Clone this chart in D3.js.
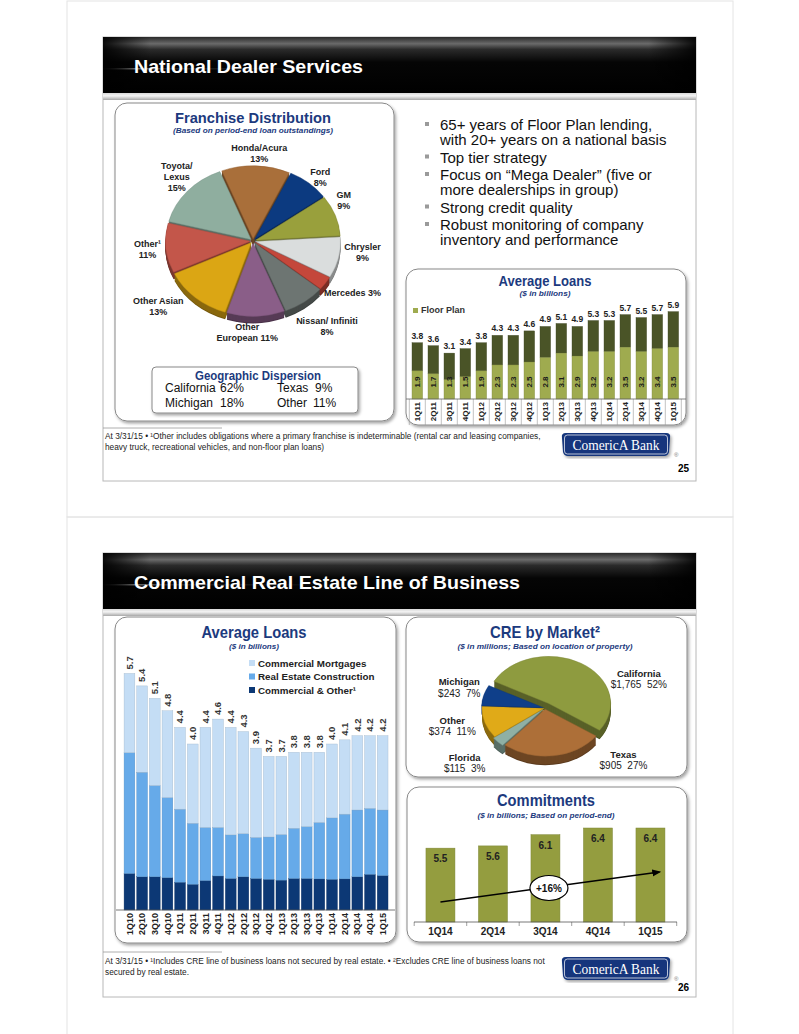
<!DOCTYPE html>
<html><head><meta charset="utf-8">
<script src="https://cdn.jsdelivr.net/npm/d3@7"></script>
<style>
html,body{margin:0;padding:0;background:#fff;}
svg{display:block;font-family:"Liberation Sans",Arial,Helvetica,sans-serif;}
</style></head><body>
<svg id="c" width="799" height="1034"></svg>
<script>
// ---------------- DATA ----------------
const franchiseNames = ["Honda/Acura","Ford","GM","Chrysler","Mercedes","Nissan/ Infiniti","Other European","Other Asian","Other¹","Toyota/ Lexus"];
const franchiseShares = [13,8,9,9,3,8,11,13,11,15];
const franchiseLabelTpl = ["Honda/Acura|{p}","Ford|{p}","GM|{p}","Chrysler|{p}","Mercedes {p}","Nissan/ Infiniti|{p}","Other|European {p}","Other Asian|{p}","Other¹|{p}","Toyota/|Lexus|{p}"];
const franchiseColors = ["#a96f3a","#0c3a80","#99a03c","#dadddd","#c4473b","#6d7572","#8a5e88","#dba614","#c3564a","#8fae9f"];

const geoRegions = ["California","Michigan","Texas","Other"];
const geoShares = [62,18,9,11];

const bulletItems = ["65+ years of Floor Plan lending,|with 20+ years on a national basis","Top tier strategy","Focus on “Mega Dealer” (five or|more dealerships in group)","Strong credit quality","Robust monitoring of company|inventory and performance"];

const ndsQuarters = ["1Q11","2Q11","3Q11","4Q11","1Q12","2Q12","3Q12","4Q12","1Q13","2Q13","3Q13","4Q13","1Q14","2Q14","3Q14","4Q14","1Q15"];
const ndsTotal = [3.8,3.6,3.1,3.4,3.8,4.3,4.3,4.6,4.9,5.1,4.9,5.3,5.3,5.7,5.5,5.7,5.9];
const ndsFloorPlan = [1.9,1.7,1.3,1.5,1.9,2.3,2.3,2.5,2.8,3.1,2.9,3.2,3.2,3.5,3.2,3.4,3.5];

const creQuarters = ["1Q10","2Q10","3Q10","4Q10","1Q11","2Q11","3Q11","4Q11","1Q12","2Q12","3Q12","4Q12","1Q13","2Q13","3Q13","4Q13","1Q14","2Q14","3Q14","4Q14","1Q15"];
const creTotal = [5.7,5.4,5.1,4.8,4.4,4.0,4.4,4.6,4.4,4.3,3.9,3.7,3.7,3.8,3.8,3.8,4.0,4.1,4.2,4.2,4.2];
const creCommercialOther = [0.88,0.80,0.80,0.78,0.67,0.62,0.71,0.82,0.76,0.80,0.76,0.74,0.72,0.76,0.76,0.75,0.74,0.75,0.80,0.86,0.83];
const creConstruction = [2.91,2.52,2.20,1.93,1.76,1.47,1.28,1.17,1.05,1.04,0.99,1.02,1.10,1.21,1.25,1.36,1.48,1.56,1.61,1.59,1.58];
const creMortgages = [1.91,2.08,2.10,2.09,1.97,1.91,2.41,2.61,2.59,2.46,2.15,1.94,1.88,1.83,1.79,1.69,1.78,1.79,1.79,1.75,1.79];
const creSeriesNames = ["Commercial Mortgages","Real Estate Construction","Commercial & Other¹"];

const marketNames = ["California","Texas","Florida","Other","Michigan"];
const marketValues = [1765,905,115,374,243];
const marketColors = ["#8e9b3f","#ad6f38","#8fb0a4","#e0aa18","#0f3f8a"];

const commitQuarters = ["1Q14","2Q14","3Q14","4Q14","1Q15"];
const commitValues = [5.5,5.6,6.1,6.4,6.4];
const commitGrowth = "+16%";

// ---------------- HELPERS ----------------
const svg = d3.select("#c");
const NAVY = "#1c3a7e";
const defs = svg.append("defs");
const sh = defs.append("filter").attr("id","sh").attr("x","-5%").attr("y","-5%").attr("width","115%").attr("height","115%");
sh.append("feDropShadow").attr("dx",1.5).attr("dy",2).attr("stdDeviation",1.4).attr("flood-color","#000").attr("flood-opacity",0.35);
const hg = defs.append("linearGradient").attr("id","hdr").attr("x1",0).attr("y1",0).attr("x2",0).attr("y2",1);
[[0,"#2a2a2a"],[0.12,"#6a6a6a"],[0.22,"#2b2b2b"],[0.45,"#050505"],[1,"#000"]].forEach(s=>hg.append("stop").attr("offset",s[0]).attr("stop-color",s[1]));
const hm = defs.append("linearGradient").attr("id","hfade").attr("x1",0).attr("y1",0).attr("x2",1).attr("y2",0);
[[0,"#000",0.9],[0.08,"#000",0],[0.92,"#000",0],[1,"#000",0.9]].forEach(s=>hm.append("stop").attr("offset",s[0]).attr("stop-color",s[1]).attr("stop-opacity",s[2]));
const st = defs.append("linearGradient").attr("id","hstreak").attr("x1",0).attr("y1",0).attr("x2",1).attr("y2",0);
[[0,"#999",0.1],[0.12,"#ccc",0.7],[0.25,"#999",0.2],[1,"#999",0]].forEach(s=>st.append("stop").attr("offset",s[0]).attr("stop-color",s[1]).attr("stop-opacity",s[2]));
const gs = defs.append("linearGradient").attr("id","gstrip").attr("x1",0).attr("y1",0).attr("x2",0).attr("y2",1);
[[0,"#d8d8d8"],[0.4,"#f4f4f4"],[1,"#a8a8a8"]].forEach(s=>gs.append("stop").attr("offset",s[0]).attr("stop-color",s[1]));

function panel(x,y,w,h){
  svg.append("rect").attr("x",x).attr("y",y).attr("width",w).attr("height",h).attr("rx",12)
    .attr("fill","#fff").attr("stroke","#888").attr("stroke-width",1).attr("filter","url(#sh)");
}
function title(cx,y,txt,len,size){
  svg.append("text").attr("x",cx).attr("y",y).attr("text-anchor","middle").attr("fill",NAVY)
    .attr("font-weight","bold").attr("font-size",size||15).attr("textLength",len).attr("lengthAdjust","spacingAndGlyphs").text(txt);
}
function subtitle(cx,y,txt,len){
  svg.append("text").attr("x",cx).attr("y",y).attr("text-anchor","middle").attr("fill",NAVY)
    .attr("font-weight","bold").attr("font-style","italic").attr("font-size",8).attr("textLength",len).attr("lengthAdjust","spacingAndGlyphs").text(txt);
}
function header(y0,txt,len){
  svg.append("rect").attr("x",103).attr("y",y0).attr("width",593).attr("height",56).attr("fill","url(#hdr)");
  svg.append("rect").attr("x",103).attr("y",y0+31).attr("width",260).attr("height",1.5).attr("fill","url(#hstreak)");
  svg.append("rect").attr("x",103).attr("y",y0).attr("width",593).attr("height",56).attr("fill","url(#hfade)");
  svg.append("rect").attr("x",103).attr("y",y0+56).attr("width",593).attr("height",7).attr("fill","url(#gstrip)");
  svg.append("text").attr("x",134).attr("y",y0+35.5).attr("fill","#fff").attr("font-weight","bold").attr("font-size",19)
    .attr("textLength",len).attr("lengthAdjust","spacingAndGlyphs").text(txt);
}
function logo(x,y){
  const w=108,h=23;
  const p = `M${x+4},${y} L${x+w-4},${y} Q${x+w+1},${y} ${x+w},${y+5} L${x+w-1},${y+h-4} Q${x+w-2},${y+h} ${x+w-6},${y+h} L${x+6},${y+h} Q${x+2},${y+h} ${x+1},${y+h-4} L${x},${y+5} Q${x-1},${y} ${x+4},${y} Z`;
  svg.append("path").attr("d",p).attr("fill","#12367b").attr("filter","url(#sh)");
  svg.append("rect").attr("x",x+2.5).attr("y",y+2).attr("width",w-5).attr("height",h-4).attr("rx",3).attr("fill","none").attr("stroke","#fff").attr("stroke-width",0.7);
  svg.append("text").attr("x",x+w/2).attr("y",y+17).attr("text-anchor","middle").attr("fill","#fff")
    .attr("font-family","'Liberation Serif','Times New Roman',serif").attr("font-size",15.5).attr("textLength",87).attr("lengthAdjust","spacingAndGlyphs")
    .text("ComericA Bank");
  svg.append("text").attr("x",x+112).attr("y",y+24).attr("font-size",6).attr("fill","#777").text("®");
}
function footer(y, lines, lineY){
  svg.append("line").attr("x1",103).attr("x2",222).attr("y1",y).attr("y2",y).attr("stroke","#999").attr("stroke-width",0.8);
  lines.forEach((l,i)=>{
    svg.append("text").attr("x",105).attr("y",lineY+i*10.5).attr("font-size",8.3).attr("fill","#222").text(l);
  });
}

// ---------------- PAGE FRAMES ----------------
svg.append("rect").attr("x",67).attr("y",1).attr("width",666).attr("height",516).attr("fill","none").attr("stroke","#e4e4e4");
svg.append("rect").attr("x",67).attr("y",517).attr("width",666).attr("height",520).attr("fill","none").attr("stroke","#e4e4e4");
svg.append("rect").attr("x",103).attr("y",37).attr("width",593).attr("height",444).attr("fill","#fff").attr("stroke","#b8b8b8");
svg.append("rect").attr("x",103).attr("y",553).attr("width",593).attr("height",444).attr("fill","#fff").attr("stroke","#b8b8b8");

header(37,"National Dealer Services",229);
header(553,"Commercial Real Estate Line of Business",386);

// ---------------- 3D PIE ----------------
function pie3d(cx,cy,r,ky,depth,values,colors,explode,startDeg){
  const pie = d3.pie().sort(null).value(d=>d)
    .startAngle(startDeg*Math.PI/180).endAngle((startDeg+360)*Math.PI/180);
  const arcs = pie(values);
  const arc = d3.arc().innerRadius(0).outerRadius(r);
  const off = arcs.map((a,i)=>{const m=(a.startAngle+a.endAngle)/2;return [Math.sin(m)*explode[i], -Math.cos(m)*explode[i]];});
  for(let d=depth; d>=1; d--){
    const g = svg.append("g").attr("transform",`translate(${cx},${cy+d}) scale(1,${ky})`);
    arcs.forEach((a,i)=>{
      g.append("path").attr("d",arc(a)).attr("transform",`translate(${off[i][0]},${off[i][1]})`)
        .attr("fill",d3.color(colors[i]).darker(d===depth?1.8:1.3));
    });
  }
  const g = svg.append("g").attr("transform",`translate(${cx},${cy}) scale(1,${ky})`);
  arcs.forEach((a,i)=>{
    g.append("path").attr("d",arc(a)).attr("transform",`translate(${off[i][0]},${off[i][1]})`)
      .attr("fill",colors[i]).attr("stroke",d3.color(colors[i]).darker(0.4)).attr("stroke-width",0.5);
  });
  return arcs;
}

// ---------------- SLIDE 1: FRANCHISE PIE ----------------
panel(115,103,279,318);
title(253,123,"Franchise Distribution",156,15);
subtitle(253,133,"(Based on period-end loan outstandings)",160);
{
  const cx=253, cy=241, r=85, ky=0.86;
  const arcs = pie3d(cx,cy,r,ky,7,franchiseShares,franchiseColors,franchiseShares.map(()=>2.5),-21.6);
  const nudge = [[3,4],[-1,7],[-10,-9],[5,-9],[11,0],[11,11],[-9,0],[-24,-4],[1,0],[4,-3.6]];
  arcs.forEach((a,i)=>{
    const m=(a.startAngle+a.endAngle)/2, rl=r+22;
    const x = cx+Math.sin(m)*rl+nudge[i][0], y = cy-Math.cos(m)*rl*ky+nudge[i][1];
    const lines = franchiseLabelTpl[i].replace("{p}",franchiseShares[i]+"%").split("|");
    lines.forEach((l,j)=>{
      svg.append("text").attr("x",x).attr("y",y-(lines.length-1)*5.5+3+j*11)
        .attr("text-anchor","middle").attr("font-size",9).attr("font-weight","bold").attr("fill","#222").text(l);
    });
  });
}
// Geographic dispersion box
svg.append("rect").attr("x",152).attr("y",367).attr("width",206).attr("height",46).attr("rx",4)
  .attr("fill","#fff").attr("stroke","#888").attr("filter","url(#sh)");
title(258,380,"Geographic Dispersion",126,12.5);
geoRegions.forEach((g,i)=>{
  const col = Math.floor(i/2), row = i%2;
  const x = col===0?165:277, y = 392+row*15;
  svg.append("text").attr("x",x).attr("y",y).attr("font-size",12).attr("fill","#111").text(g);
  svg.append("text").attr("x",col===0?220:(i===2?315:313)).attr("y",y).attr("font-size",12).attr("fill","#111").text(geoShares[i]+"%");
});

// ---------------- SLIDE 1: BULLETS ----------------
{
  let y=130;
  bulletItems.forEach(item=>{
    const lines=item.split("|");
    svg.append("rect").attr("x",425).attr("y",y-8).attr("width",4).attr("height",4).attr("fill","#9a9a9a");
    lines.forEach((l,j)=>{
      svg.append("text").attr("x",440).attr("y",y+j*15).attr("font-size",15).attr("fill","#111").text(l);
    });
    y += lines.length*15+2.5;
  });
}

// ---------------- SLIDE 1: AVERAGE LOANS ----------------
panel(406,269,280,156);
title(545,286,"Average Loans",93,15.5);
subtitle(545,296,"($ in billions)",51);
{
  const x = d3.scaleBand().domain(ndsQuarters).range([409.3,681.3]).paddingInner(0.34).paddingOuter(0.17);
  const y = d3.scaleLinear().domain([0,6]).range([399,310.2]);
  const lower="#9fab4f", upper="#4a5427";
  const g = svg.append("g");
  ndsQuarters.forEach((q,i)=>{
    g.append("rect").attr("x",x(q)).attr("width",x.bandwidth()).attr("y",y(ndsTotal[i])).attr("height",y(ndsFloorPlan[i])-y(ndsTotal[i]))
      .attr("fill",upper).attr("stroke","#3a421e").attr("stroke-width",0.4);
    g.append("rect").attr("x",x(q)).attr("width",x.bandwidth()).attr("y",y(ndsFloorPlan[i])).attr("height",y(0)-y(ndsFloorPlan[i]))
      .attr("fill",lower).attr("stroke","#7f8a3c").attr("stroke-width",0.4);
    const cxm = x(q)+x.bandwidth()/2;
    g.append("text").attr("transform",`translate(${cxm},382) rotate(-90)`).attr("dy","0.35em").attr("text-anchor","middle")
      .attr("font-size",8).attr("font-weight","bold").attr("fill","#1a1a1a").text(ndsFloorPlan[i].toFixed(1));
    g.append("text").attr("x",cxm).attr("y",y(ndsTotal[i])-4).attr("text-anchor","middle")
      .attr("font-size",8.5).attr("font-weight","bold").attr("fill","#222").text(ndsTotal[i].toFixed(1));
    g.append("text").attr("transform",`translate(${cxm},402) rotate(-90)`).attr("dy","0.35em").attr("text-anchor","end")
      .attr("font-size",8).attr("font-weight","bold").attr("fill","#222").text(q);
  });
  const step = x.step();
  ndsQuarters.concat([null]).forEach((q,i)=>{
    const xx = q? x(q)-step*0.17 : x(ndsQuarters[ndsQuarters.length-1])+x.bandwidth()+step*0.17;
    g.append("line").attr("x1",xx).attr("x2",xx).attr("y1",399).attr("y2",425).attr("stroke","#999").attr("stroke-width",0.6);
  });
  g.append("line").attr("x1",406).attr("x2",686).attr("y1",399).attr("y2",399).attr("stroke","#666").attr("stroke-width",0.8);
  g.append("rect").attr("x",413).attr("y",308).attr("width",5).attr("height",5).attr("fill",lower);
  g.append("text").attr("x",421).attr("y",313).attr("font-size",9).attr("font-weight","bold").attr("fill","#333").text("Floor Plan");
}

footer(428,["At 3/31/15 • ¹Other includes obligations where a primary franchise is indeterminable (rental car and leasing companies,","heavy truck, recreational vehicles, and non-floor plan loans)"],439);
logo(562,433);
svg.append("text").attr("x",689).attr("y",472).attr("text-anchor","end").attr("font-size",10).attr("font-weight","bold").text("25");

// ---------------- SLIDE 2: AVERAGE LOANS (CRE) ----------------
panel(115,617,281,326);
title(254,638,"Average Loans",105,17);
subtitle(254,649,"($ in billions)",50);
{
  const x = d3.scaleBand().domain(creQuarters).range([123.2,388.9]).paddingInner(0.15).paddingOuter(0.07);
  const y = d3.scaleLinear().domain([0,6]).range([910,661]);
  const colors = ["#c4ddf5","#66aae9","#0c3875"];
  const series = [creMortgages, creConstruction, creCommercialOther];
  const g = svg.append("g");
  creQuarters.forEach((q,i)=>{
    let base = 0;
    [2,1,0].forEach(s=>{
      const v = series[s][i];
      g.append("rect").attr("x",x(q)).attr("width",x.bandwidth()).attr("y",y(base+v)).attr("height",y(base)-y(base+v))
        .attr("fill",colors[s]).attr("stroke",d3.color(colors[s]).darker(0.5)).attr("stroke-width",0.4);
      base += v;
    });
    const cxm = x(q)+x.bandwidth()/2;
    g.append("text").attr("transform",`translate(${cxm},${y(base)-4}) rotate(-90)`).attr("dy","0.35em").attr("text-anchor","start")
      .attr("font-size",9.5).attr("font-weight","bold").attr("fill","#333").text(creTotal[i].toFixed(1));
    g.append("text").attr("transform",`translate(${cxm},913) rotate(-90)`).attr("dy","0.35em").attr("text-anchor","end")
      .attr("font-size",9).attr("font-weight","bold").attr("fill","#222").text(q);
  });
  g.append("line").attr("x1",116).attr("x2",395).attr("y1",910).attr("y2",910).attr("stroke","#555").attr("stroke-width",0.8);
  creSeriesNames.forEach((n,i)=>{
    const ly = 663+i*13.5;
    g.append("rect").attr("x",249).attr("y",ly-3).attr("width",6).attr("height",6).attr("fill",colors[i]);
    g.append("text").attr("x",258).attr("y",ly+3.5).attr("font-size",9.8).attr("font-weight","bold").attr("fill","#222").text(n);
  });
}

// ---------------- SLIDE 2: CRE BY MARKET ----------------
panel(406,617,281,160);
title(545,638,"CRE by Market²",110,17);
subtitle(545,649,"($ in millions; Based on location of property)",175);
{
  const cx=545, cy=708, r=62, ky=0.76;
  const total = d3.sum(marketValues);
  const arcs = pie3d(cx,cy,r,ky,9,marketValues,marketColors,[7,1.5,3,1,1.5],-62);
  const nudge = [[47,29],[67,-16],[-15,8],[-7,-3],[1,-3]];
  arcs.forEach((a,i)=>{
    const m=(a.startAngle+a.endAngle)/2, rl=r*1.45;
    const x = cx+Math.sin(m)*rl+nudge[i][0], y = cy-Math.cos(m)*rl*ky+nudge[i][1];
    svg.append("text").attr("x",x).attr("y",y-2).attr("text-anchor","middle").attr("font-size",9.5).attr("font-weight","bold").attr("fill","#222").text(marketNames[i]);
    svg.append("text").attr("x",x).attr("y",y+9.5).attr("text-anchor","middle").attr("font-size",10).attr("fill","#222")
      .text("$"+d3.format(",")(marketValues[i])+"\u00A0\u00A0"+Math.round(marketValues[i]/total*100)+"%");
  });
}

// ---------------- SLIDE 2: COMMITMENTS ----------------
panel(407,787,280,155);
title(546,806,"Commitments",98,17);
subtitle(546,818,"($ in billions; Based on period-end)",137);
{
  const x = d3.scaleBand().domain(commitQuarters).range([414.2,676.7]).paddingInner(0.448).paddingOuter(0.224);
  const y = d3.scaleLinear().domain([2.2,6.4]).range([922,828]);
  const g = svg.append("g");
  commitQuarters.forEach((q,i)=>{
    g.append("rect").attr("x",x(q)).attr("width",x.bandwidth()).attr("y",y(commitValues[i])).attr("height",y(2.2)-y(commitValues[i]))
      .attr("fill","#949d3f").attr("stroke","#7d8634").attr("stroke-width",0.5);
    const cxm = x(q)+x.bandwidth()/2;
    g.append("text").attr("x",cxm).attr("y",y(commitValues[i])+14).attr("text-anchor","middle").attr("font-size",10).attr("font-weight","bold").attr("fill","#222").text(commitValues[i].toFixed(1));
    g.append("text").attr("x",cxm).attr("y",935).attr("text-anchor","middle").attr("font-size",10).attr("font-weight","bold").attr("fill","#222").text(q);
  });
  const step = x.step();
  for(let i=0;i<=commitQuarters.length;i++){
    const xx = 414.2+i*step;
    g.append("line").attr("x1",xx).attr("x2",xx).attr("y1",922).attr("y2",926).attr("stroke","#777").attr("stroke-width",0.7);
  }
  g.append("line").attr("x1",414).attr("x2",677).attr("y1",922).attr("y2",922).attr("stroke","#555").attr("stroke-width",0.8);
  const ax1 = x(commitQuarters[0])+x.bandwidth()/2, ay1 = 902;
  const ax2 = x(commitQuarters[4])+x.bandwidth()/2+9, ay2 = 872;
  defs.append("marker").attr("id","arr").attr("viewBox","0 0 10 10").attr("refX",8).attr("refY",5).attr("markerWidth",6).attr("markerHeight",6).attr("orient","auto")
    .append("path").attr("d","M0,1 L10,5 L0,9 Z").attr("fill","#000");
  g.append("line").attr("x1",ax1).attr("y1",ay1).attr("x2",ax2).attr("y2",ay2).attr("stroke","#000").attr("stroke-width",1.5).attr("marker-end","url(#arr)");
  const mx=(ax1+ax2)/2, my=(ay1+ay2)/2;
  g.append("ellipse").attr("cx",mx-1).attr("cy",my+1).attr("rx",19).attr("ry",12.5).attr("fill","#fff").attr("stroke","#000").attr("stroke-width",1.2);
  g.append("text").attr("x",mx-1).attr("y",my+4.5).attr("text-anchor","middle").attr("font-size",10).attr("font-weight","bold").attr("fill","#111").text(commitGrowth);
}

footer(952,["At 3/31/15 • ¹Includes CRE line of business loans not secured by real estate. • ²Excludes CRE line of business loans not","secured by real estate."],964);
logo(562,957);
svg.append("text").attr("x",689).attr("y",991).attr("text-anchor","end").attr("font-size",10).attr("font-weight","bold").text("26");
</script>
</body></html>
